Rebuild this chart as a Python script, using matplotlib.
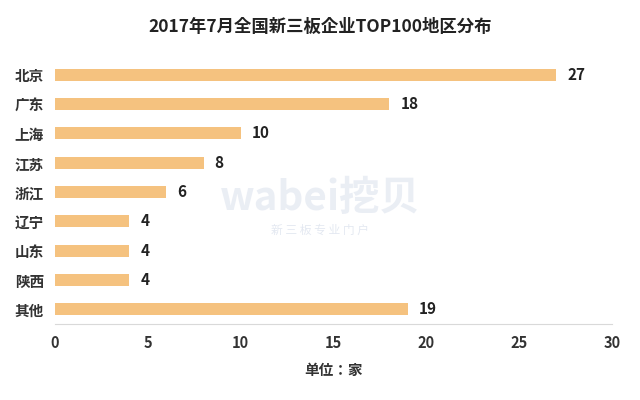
import matplotlib
matplotlib.use("Agg")
import matplotlib.pyplot as plt
from matplotlib import font_manager as fm

cjk = [f.name for f in fm.fontManager.ttflist if "CJK" in f.name or "Noto Sans SC" in f.name]
plt.rcParams["font.family"] = "sans-serif"
plt.rcParams["font.sans-serif"] = ["Noto Sans CJK SC", "Noto Sans CJK JP"] + cjk + ["DejaVu Sans"]

regions = ["北京", "广东", "上海", "江苏", "浙江", "辽宁", "山东", "陕西", "其他"]
counts = [27, 18, 10, 8, 6, 4, 4, 4, 19]
xticks = [0, 5, 10, 15, 20, 25, 30]

fig = plt.figure(figsize=(6.4, 4.0), dpi=100)
ax = fig.add_axes([0.086, 0.19, 0.87, 0.66])
y = list(range(len(regions)))
ax.barh(y, counts, height=0.42, color="#F5C27F")
for yi, v in zip(y, counts):
    ax.text(v + 0.6, yi, str(v), va="center", ha="left", fontsize=11, fontweight="bold", color="#222222")
ax.set_ylim(len(regions) - 0.5, -0.5)
ax.set_xlim(0, 30)
ax.set_xticks(xticks)
ax.set_yticks(y)
ax.set_yticklabels(regions)
for lab in ax.get_xticklabels() + ax.get_yticklabels():
    lab.set_fontweight("bold")
    lab.set_fontsize(10.5)
    lab.set_color("#333333")
ax.tick_params(length=0, pad=8)
for s in ["top", "right", "left"]:
    ax.spines[s].set_visible(False)
ax.spines["bottom"].set_color("#D9D9D9")
ax.set_xlabel("单位：家", fontsize=10.5, fontweight="bold", color="#333333", labelpad=8)
fig.suptitle("2017年7月全国新三板企业TOP100地区分布", y=0.955, fontsize=12.5, fontweight="bold", color="#222222")
fig.text(0.5, 0.505, "wabei挖贝", fontsize=29, fontweight="bold", color="#DDE3EE", alpha=0.6, ha="center", va="center", zorder=0)
fig.text(0.5, 0.425, "新 三 板 专 业 门 户", fontsize=8.5, color="#DDE3EE", alpha=0.8, ha="center", va="center", zorder=0)
fig.savefig("out.png", dpi=100)
